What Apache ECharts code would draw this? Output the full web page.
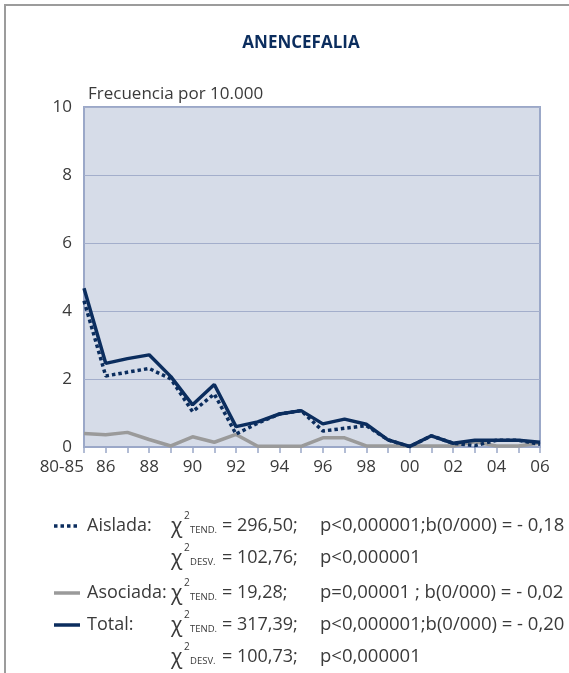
<!DOCTYPE html>
<html>
<head>
<meta charset="utf-8">
<script src="https://cdn.jsdelivr.net/npm/echarts@6/dist/echarts.min.js"></script>
<style>
  html, body { margin: 0; padding: 0; background: #ffffff; }
  #chart { width: 569px; height: 673px; }
</style>
</head>
<body>
<div id="chart"></div>
<script>
// Years (first point groups 1980-85)
const categories = ['80-85', '86', '87', '88', '89', '90', '91', '92', '93', '94', '95',
  '96', '97', '98', '99', '00', '01', '02', '03', '04', '05', '06'];

// Frequency per 10,000 births
const aislada = [4.3, 2.09, 2.2, 2.31, 2.0, 1.04, 1.56, 0.38, 0.7, 0.97, 1.07,
  0.47, 0.55, 0.63, 0.21, 0.01, 0.33, 0.11, 0.04, 0.2, 0.2, 0.08];
const asociada = [0.4, 0.36, 0.43, 0.22, 0.03, 0.3, 0.14, 0.37, 0.02, 0.02, 0.02,
  0.27, 0.27, 0.03, 0.03, 0.03, 0.03, 0.03, 0.15, 0.03, 0.03, 0.12];
const total = [4.67, 2.46, 2.6, 2.71, 2.07, 1.24, 1.84, 0.6, 0.74, 0.97, 1.07,
  0.68, 0.82, 0.67, 0.21, 0.02, 0.33, 0.11, 0.2, 0.2, 0.2, 0.14];

const yTicks = [0, 2, 4, 6, 8, 10];

// Trend test statistics shown under the chart
const statLabels = ['Aislada:', '', 'Asociada:', 'Total:', ''];
const statKinds = ['TEND.', 'DESV.', 'TEND.', 'TEND.', 'DESV.'];
const statChi = ['= 296,50;', '= 102,76;', '= 19,28;', '= 317,39;', '= 100,73;'];
const statP = ['p<0,000001;b(0/000) = - 0,18', 'p<0,000001', 'p=0,00001 ; b(0/000) = - 0,02',
  'p<0,000001;b(0/000) = - 0,20', 'p<0,000001'];

const NAVY = '#0b2d5e';
const GREY = '#9a9a9a';
const TEXT = '#3a3a3a';
const FONT = '"Open Sans", "Noto Sans", sans-serif';

const rowY = [526, 558, 593, 625, 657];

const graphics = [
  // outer frame
  { type: 'rect', shape: { x: 5, y: 5, width: 700, height: 800 }, style: { fill: 'none', stroke: '#9c9c9c', lineWidth: 2 }, z: 0 },
  // legend samples
  { type: 'line', shape: { x1: 54, y1: rowY[0], x2: 80, y2: rowY[0] }, style: { stroke: NAVY, lineWidth: 3.5, lineDash: [3.5, 3] } },
  { type: 'line', shape: { x1: 54, y1: rowY[2], x2: 80, y2: rowY[2] }, style: { stroke: GREY, lineWidth: 3.5 } },
  { type: 'line', shape: { x1: 54, y1: rowY[3], x2: 80, y2: rowY[3] }, style: { stroke: NAVY, lineWidth: 3.5 } }
];

function txt(text, x, y, size, extra) {
  return {
    type: 'text',
    style: Object.assign({ text: text, x: x, y: y, fontSize: size, fontFamily: FONT, fill: TEXT, verticalAlign: 'middle', align: 'left' }, extra || {})
  };
}

statLabels.forEach(function (lab, i) {
  const y = rowY[i];
  if (lab) graphics.push(txt(lab, 87, y, 18));
  graphics.push(txt('\u03C7', 171, y + 1, 21));
  graphics.push(txt('2', 184, y - 10, 10));
  graphics.push(txt(statKinds[i], 190, y + 4, 9.5));
  graphics.push(txt(statChi[i], 222, y, 18));
  graphics.push(txt(statP[i], 320, y, 18.5));
});

// chart title, drawn as free text so its centre can sit off the plot centre
graphics.push({
  type: 'text',
  style: { text: 'ANENCEFALIA', x: 301, y: 43, align: 'center', verticalAlign: 'middle',
    fontSize: 17, fontWeight: 'bold', fontFamily: FONT, fill: NAVY }
});

const chart = echarts.init(document.getElementById('chart'), null, { renderer: 'canvas' });

chart.setOption({
  animation: false,
  backgroundColor: '#ffffff',
  grid: {
    left: 84, top: 107, right: 29, bottom: 226,
    show: true,
    backgroundColor: '#d6dce8',
    borderColor: '#9ba8c8',
    borderWidth: 2
  },
  xAxis: {
    type: 'category',
    boundaryGap: false,
    data: categories.map(function (c, i) {
      return i === 0 ? { value: c, textStyle: { align: 'right' } } : c;
    }),
    axisLine: { show: true, lineStyle: { color: '#9ba8c8', width: 2 } },
    axisTick: { show: true, interval: 0, length: 6, lineStyle: { color: '#9ba8c8', width: 1.5 } },
    axisLabel: {
      interval: function (i) { return i === 0 || i % 2 === 1; },
      color: TEXT, fontSize: 17, fontFamily: FONT, margin: 12
    },
    splitLine: { show: false }
  },
  yAxis: {
    type: 'value',
    min: yTicks[0],
    max: yTicks[yTicks.length - 1],
    interval: 2,
    name: 'Frecuencia por 10.000',
    nameLocation: 'end',
    nameGap: 4,
    nameTextStyle: { color: TEXT, fontSize: 17, fontFamily: FONT, align: 'left', padding: [0, 0, 0, 4] },
    axisLine: { show: false },
    axisTick: { show: false },
    axisLabel: { color: TEXT, fontSize: 17, fontFamily: FONT, margin: 12 },
    splitLine: { show: true, lineStyle: { color: '#a3aecb', width: 1 } }
  },
  series: [
    {
      name: 'Asociada', type: 'line', data: asociada, showSymbol: false, z: 2,
      lineStyle: { color: GREY, width: 3.5 }
    },
    {
      name: 'Aislada', type: 'line', data: aislada, showSymbol: false, z: 3,
      lineStyle: { color: NAVY, width: 3.5, type: [3.5, 3] }
    },
    {
      name: 'Total', type: 'line', data: total, showSymbol: false, z: 4,
      lineStyle: { color: NAVY, width: 3.5 }
    }
  ],
  graphic: graphics
});
</script>
</body>
</html>
